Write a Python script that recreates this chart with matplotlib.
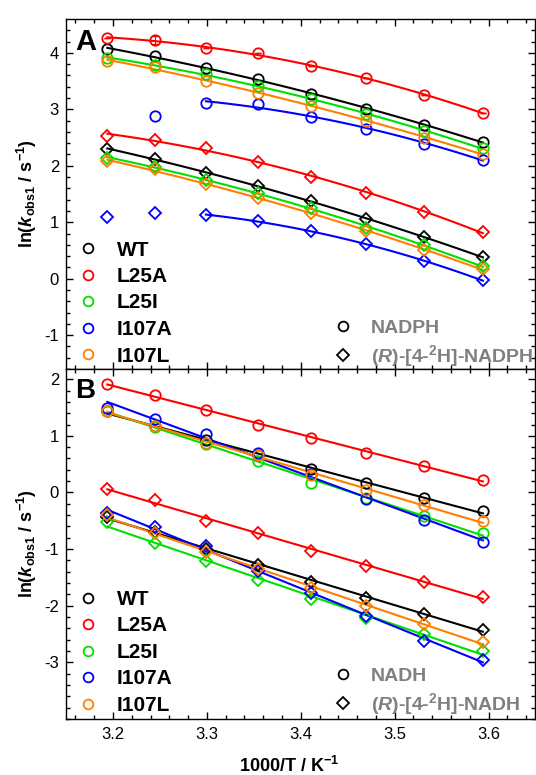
import numpy as np
import matplotlib.pyplot as plt
from matplotlib.lines import Line2D

plt.rcParams['font.family'] = ['Liberation Sans', 'DejaVu Sans']
plt.rcParams['mathtext.fontset'] = 'custom'
plt.rcParams['mathtext.rm'] = 'Liberation Sans:bold'
plt.rcParams['mathtext.bf'] = 'Liberation Sans:bold'
plt.rcParams['mathtext.it'] = 'Liberation Sans:italic:bold'
plt.rcParams['axes.unicode_minus'] = False

# --- DATA ---
inv_t = [3.194, 3.245, 3.299, 3.354, 3.411, 3.470, 3.531, 3.594]
strains = ["WT", "L25A", "L25I", "I107A", "I107L"]
colors = ["#000000", "#ff0000", "#00e000", "#0000ff", "#ff8000"]

# panel A: NADPH (circles) and (R)-[4-2H]-NADPH (diamonds)
a_h_wt = [4.07, 3.94, 3.74, 3.53, 3.27, 3.01, 2.73, 2.42]
a_h_l25a = [4.27, 4.22, 4.08, 3.99, 3.77, 3.55, 3.25, 2.94]
a_h_l25i = [3.91, 3.78, 3.62, 3.41, 3.19, 2.91, 2.62, 2.31]
a_h_i107a = [np.nan, 2.89, 3.11, 3.09, 2.87, 2.65, 2.39, 2.11]
a_h_i107l = [3.85, 3.75, 3.51, 3.29, 3.06, 2.80, 2.50, 2.21]
a_h_l25a_err = [0, 0.07, 0, 0, 0, 0, 0, 0]

a_d_wt = [2.30, 2.12, 1.88, 1.64, 1.37, 1.06, 0.74, 0.38]
a_d_l25a = [2.53, 2.46, 2.32, 2.07, 1.80, 1.51, 1.18, 0.83]
a_d_l25i = [2.14, 1.98, 1.75, 1.52, 1.25, 0.90, 0.59, 0.22]
a_d_i107a = [1.09, 1.17, 1.13, 1.02, 0.84, 0.61, 0.31, -0.03]
a_d_i107l = [2.08, 1.94, 1.68, 1.43, 1.16, 0.84, 0.51, 0.17]

# panel B: NADH (circles) and (R)-[4-2H]-NADH (diamonds)
b_h_wt = [1.43, 1.18, 0.92, 0.66, 0.41, 0.16, -0.09, -0.33]
b_h_l25a = [1.91, 1.72, 1.45, 1.20, 0.97, 0.70, 0.47, 0.22]
b_h_l25i = [1.44, 1.16, 0.86, 0.55, 0.16, -0.10, -0.42, -0.71]
b_h_i107a = [1.49, 1.29, 1.03, 0.69, 0.32, -0.11, -0.49, -0.88]
b_h_i107l = [1.44, 1.17, 0.87, 0.66, 0.30, 0.05, -0.22, -0.51]

b_d_wt = [-0.43, -0.70, -0.99, -1.28, -1.58, -1.86, -2.14, -2.42]
b_d_l25a = [0.06, -0.13, -0.50, -0.72, -1.03, -1.30, -1.58, -1.84]
b_d_l25i = [-0.53, -0.90, -1.21, -1.54, -1.88, -2.21, -2.50, -2.80]
b_d_i107a = [-0.37, -0.61, -0.95, -1.38, -1.78, -2.18, -2.63, -2.96]
b_d_i107l = [-0.40, -0.72, -1.06, -1.35, -1.69, -2.01, -2.32, -2.64]

# first point used in the fit (I107A in panel A drops the hot points)
a_fit_from = [0, 0, 0, 2, 0]
b_fit_from = [0, 0, 0, 0, 0]


def draw_panel(ax, h_sets, d_sets, fit_from, deg):
    x = np.array(inv_t)
    for sets, mk in ((h_sets, 'o'), (d_sets, 'D')):
        for ys, c, i0 in zip(sets, colors, fit_from):
            y = np.array(ys, dtype=float)
            xs, yf = x[i0:], y[i0:]
            p = np.polyfit(xs, yf, deg)
            xx = np.linspace(xs[0], xs[-1], 100)
            ax.plot(xx, np.polyval(p, xx), '-', color=c, lw=1.5, zorder=2)
            ax.plot(x, y, mk, color=c, mfc='none', mew=1.3,
                    ms=7.5 if mk == 'o' else 6.5, zorder=3)


def style_axes(ax, ylim, yticks):
    ax.set_xlim(3.15, 3.6495)
    ax.set_ylim(*ylim)
    ax.set_xticks([3.2, 3.3, 3.4, 3.5, 3.6])
    ax.set_xticks(np.arange(3.16, 3.65, 0.02), minor=True)
    ax.set_yticks(yticks)
    ax.set_yticks(np.arange(ylim[0] - ylim[0] % 0.2, ylim[1], 0.2), minor=True)
    ax.tick_params(which='both', direction='in', top=True, right=True,
                   labelsize=12)
    ax.tick_params(which='major', length=5, width=1)
    ax.tick_params(which='minor', length=3, width=1)
    ax.tick_params(axis='y', pad=5)
    ax.tick_params(axis='x', pad=6)
    for s in ax.spines.values():
        s.set_linewidth(1.0)
    ax.set_ylabel(r'ln($k_\mathrm{obs1}$ / s$^\mathrm{-1}$)', fontsize=13,
                  fontweight='bold', labelpad=4)


def add_legends(ax, cofactor, y1, y2):
    hs = [Line2D([], [], ls='none', marker='o', mfc='none', mec=c, mew=1.3,
                 ms=7) for c in colors]
    leg1 = ax.legend(hs, strains, loc='lower left', bbox_to_anchor=(0.030, y1),
                     frameon=False, borderpad=0, borderaxespad=0,
                     handlelength=0.8, handletextpad=0.95, labelspacing=0.36,
                     prop={'size': 15, 'weight': 'bold'})
    ax.add_artist(leg1)
    hk = [Line2D([], [], ls='none', marker='o', mfc='none', mec='k', mew=1.3, ms=7),
          Line2D([], [], ls='none', marker='D', mfc='none', mec='k', mew=1.3, ms=6.5)]
    labels = [cofactor, r'($R$)-[4-$^\mathrm{2}$H]-' + cofactor]
    leg2 = ax.legend(hk, labels, loc='lower left', bbox_to_anchor=(0.574, y2),
                     frameon=False, borderpad=0, borderaxespad=0,
                     handlelength=0.8, handletextpad=1.05, labelspacing=0.3,
                     prop={'size': 14, 'weight': 'bold'})
    for t in leg2.get_texts():
        t.set_color('#808080')


fig = plt.figure(figsize=(5.36, 7.75), dpi=100)
ax_a = fig.add_axes([66 / 536, 406 / 775, 469 / 536, 350 / 775])
ax_b = fig.add_axes([66 / 536, 56 / 775, 469 / 536, 350 / 775])

draw_panel(ax_a, [a_h_wt, a_h_l25a, a_h_l25i, a_h_i107a, a_h_i107l],
           [a_d_wt, a_d_l25a, a_d_l25i, a_d_i107a, a_d_i107l], a_fit_from, 2)
draw_panel(ax_b, [b_h_wt, b_h_l25a, b_h_l25i, b_h_i107a, b_h_i107l],
           [b_d_wt, b_d_l25a, b_d_l25i, b_d_i107a, b_d_i107l], b_fit_from, 1)
ax_a.errorbar(inv_t, a_h_l25a, yerr=a_h_l25a_err, fmt='none', ecolor=colors[1],
              elinewidth=0.8, capsize=2.5, zorder=3)

style_axes(ax_a, (-1.45, 4.6), [-1, 0, 1, 2, 3, 4])
style_axes(ax_b, (-3.83, 2.18), [-3, -2, -1, 0, 1, 2])
ax_a.tick_params(axis='x', labelbottom=False)
ax_b.set_xlabel(r'1000/T / K$^\mathrm{-1}$', fontsize=13, fontweight='bold',
                labelpad=6)
ax_b.xaxis.set_label_coords(0.476, -0.105)

ax_a.text(0.019, 0.934, 'A', transform=ax_a.transAxes, fontsize=21,
          fontweight='bold', va='center', ha='left')
ax_b.text(0.019, 0.936, 'B', transform=ax_b.transAxes, fontsize=20,
          fontweight='bold', va='center', ha='left')

add_legends(ax_a, 'NADPH', 0.010, 0.0)
add_legends(ax_b, 'NADH', 0.012, 0.006)

fig.savefig('out.png', dpi=100)
